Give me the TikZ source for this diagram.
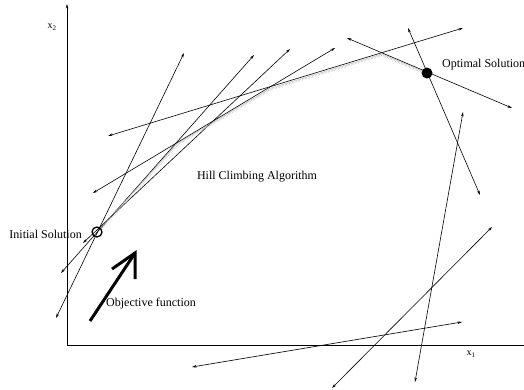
\documentclass[tikz,border=0pt]{standalone}
\usepackage{fontspec}
\setmainfont{Liberation Serif}
\usetikzlibrary{arrows.meta,decorations.pathreplacing}

\begin{document}
\begin{tikzpicture}[
  x=1pt,y=-1pt,
  >={Stealth[length=4.5pt,width=2.6pt]},
  every node/.style={font=\fontsize{12}{14}\selectfont,inner sep=0pt},
  axisline/.style={line width=0.9pt},
  tline/.style={<->,line width=0.6pt},
  climb/.style={gray!70,line width=0.3pt,
    postaction={draw=gray!60,decorate,decoration={ticks,segment length=1.5pt,amplitude=0.9pt,raise=-1.2pt}}},
  objarrow/.style={line width=3pt,line join=miter,line cap=butt},
  startdot/.style={draw,circle,line width=1.3pt,minimum size=10pt},
  goaldot/.style={fill,circle,minimum size=11pt}
]
  \useasboundingbox (0,0) rectangle (524,389);
  % axes
  \coordinate (o) at (67,345);
  \coordinate (ytop) at (67,4);
  \coordinate (xend) at (524,345);
  \draw[axisline,->] (o) -- (ytop);
  \draw[axisline] (o) -- (xend);
  \node (xtwo) at (52,27) {\fontsize{10}{12}\selectfont x\textsubscript{2}};
  \node (xone) at (471,354) {\fontsize{10}{12}\selectfont x\textsubscript{1}};

  % end points of the lines
  \coordinate (la1) at (56,318);   \coordinate (la2) at (184,53);
  \coordinate (lb1) at (61,273);   \coordinate (lb2) at (254,55);
  \coordinate (lc1) at (83,243);   \coordinate (lc2) at (290,49);
  \coordinate (ld1) at (108,136);  \coordinate (ld2) at (463,28);
  \coordinate (le1) at (93,193);   \coordinate (le2) at (335,48);
  \coordinate (lf1) at (408,28);   \coordinate (lf2) at (480,195);
  \coordinate (lg1) at (347,38);   \coordinate (lg2) at (512,108);
  \coordinate (lh1) at (463,112);  \coordinate (lh2) at (415,382);
  \coordinate (li1) at (492,227);  \coordinate (li2) at (332,388);
  \coordinate (lj1) at (192,367);  \coordinate (lj2) at (462,322);
  \draw[tline] (la1) -- (la2);
  \draw[tline] (lb1) -- (lb2);
  \draw[tline] (lc1) -- (lc2);
  \draw[tline] (ld1) -- (ld2);
  \draw[tline] (le1) -- (le2);
  \draw[tline] (lf1) -- (lf2);
  \draw[tline] (lg1) -- (lg2);
  \draw[tline] (lh1) -- (lh2);
  \draw[tline] (li1) -- (li2);
  \draw[tline] (lj1) -- (lj2);

  % solutions
  \node[startdot] (start) at (97,232) {};
  \node[goaldot] (goal) at (427,73) {};
  \node[anchor=east] (initlbl) at (82,234) {Initial Solution};
  \node[anchor=west] (optlbl) at (442,65) {Optimal Solution};

  % climbing path
  \coordinate (k1) at (177,143.5);
  \coordinate (k2) at (271,88);
  \coordinate (k3) at (382,54);
  \draw[climb] (start) -- (k1) -- (k2) -- (k3) -- (goal);
  \node (hca) at (257,177) {Hill Climbing Algorithm};

  % objective direction
  \coordinate (objtail) at (90,321);
  \coordinate (objtip) at (135,253);
  \coordinate (barbl) at (112,269);
  \coordinate (barbr) at (135,279);
  \draw[objarrow] (objtail) -- (objtip);
  \draw[objarrow] (barbl) -- (objtip) -- (barbr);
  \node[anchor=west] (objlbl) at (106,304) {Objective function};
\end{tikzpicture}
\end{document}
